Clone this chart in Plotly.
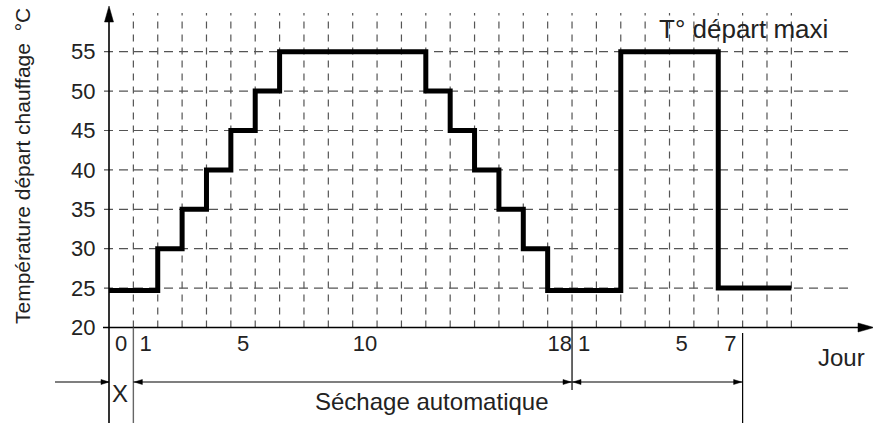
import plotly.graph_objects as go

W, H = 873, 423

# ---------------- data ----------------
step_days = [0, 2, 3, 4, 5, 6, 7, 13, 14, 15, 16, 17, 18, 21, 25, 28]
step_temps = [24.7, 30, 35, 40, 45, 50, 55, 50, 45, 40, 35, 30, 24.7, 55, 25, 25]
y_ticks = [20, 25, 30, 35, 40, 45, 50, 55]
x_tick_pos = [0.5, 1.5, 5.5, 10.5, 18.5, 19.5, 23.5, 25.5]
x_tick_labels = ["0", "1", "5", "10", "18", "1", "5", "7"]
grid_days = list(range(1, 29))
phase_bounds = [0, 1, 19, 26]   # X | Séchage automatique | T° départ maxi

# ---------------- layout helpers (pixel <-> data) ----------------
X0_PX, UX = 109.0, 24.37      # x pixel of day 0, pixels per day
Y20_PX, UY = 327.5, 7.88      # y pixel of 20 °C, pixels per °C
Y_BASE = 20


def px2x(px):
    return (px - X0_PX) / UX


def px2y(py):
    return Y_BASE + (Y20_PX - py) / UY


def x2px(u):
    return X0_PX + u * UX


def y2px(v):
    return Y20_PX - (v - Y_BASE) * UY


x_range = [px2x(0), px2x(W)]
y_range = [px2y(H), px2y(0)]

TXT = "#222222"
GRID = "#555555"
FONT = "Liberation Sans, Arial, sans-serif"

shapes = []

# horizontal dashed grid
for v in y_ticks[1:]:
    shapes.append(dict(type="line", xref="x", yref="y", x0=px2x(104), x1=px2x(848),
                       y0=v, y1=v, layer="below",
                       line=dict(color=GRID, width=1.2, dash="9px,6px")))
# vertical dashed grid
for d in grid_days:
    shapes.append(dict(type="line", xref="x", yref="y", x0=d, x1=d,
                       y0=Y_BASE, y1=px2y(13), layer="below",
                       line=dict(color=GRID, width=1.2, dash="7px,6px")))

# axes lines
shapes.append(dict(type="line", x0=px2x(103), x1=px2x(862), y0=Y_BASE, y1=Y_BASE,
                   line=dict(color="black", width=1.6)))
shapes.append(dict(type="line", x0=0, x1=0, y0=y_range[0], y1=px2y(18),
                   line=dict(color="black", width=1.6)))


def arrowhead(tip_px, tip_py, direction, length, width):
    """Filled triangular arrowhead given in pixel geometry, returned as data path."""
    tx, ty = tip_px, tip_py
    if direction == "right":
        pts = [(tx, ty), (tx - length, ty - width / 2), (tx - length, ty + width / 2)]
    elif direction == "left":
        pts = [(tx, ty), (tx + length, ty - width / 2), (tx + length, ty + width / 2)]
    else:  # up
        pts = [(tx, ty), (tx - width / 2, ty + length), (tx + width / 2, ty + length)]
    p = "M{},{} L{},{} L{},{} Z".format(*[c for pt in pts for c in (px2x(pt[0]), px2y(pt[1]))])
    return dict(type="path", xref="x", yref="y", path=p, fillcolor="black",
                line=dict(color="black", width=0.5))


shapes.append(arrowhead(x2px(0), 6, "up", 16, 9))
shapes.append(arrowhead(W + 1, y2px(Y_BASE), "right", 16, 9))

# phase separators
SEP = "#666666"
shapes.append(dict(type="line", x0=phase_bounds[1], x1=phase_bounds[1], y0=Y_BASE, y1=y_range[0],
                   line=dict(color=SEP, width=1.4)))
shapes.append(dict(type="line", x0=phase_bounds[2], x1=phase_bounds[2], y0=Y_BASE, y1=px2y(390),
                   line=dict(color="black", width=1.2)))
shapes.append(dict(type="line", x0=phase_bounds[3], x1=phase_bounds[3], y0=px2y(333), y1=y_range[0],
                   line=dict(color="black", width=1.2)))

# span arrows below the axis
ARW_Y = 382
shapes.append(dict(type="line", x0=px2x(55), x1=phase_bounds[0], y0=px2y(ARW_Y), y1=px2y(ARW_Y),
                   line=dict(color="black", width=1.1)))
shapes.append(arrowhead(x2px(phase_bounds[0]), ARW_Y, "right", 8, 5))
for a, b in [(phase_bounds[1], phase_bounds[2]), (phase_bounds[2], phase_bounds[3])]:
    shapes.append(dict(type="line", x0=a, x1=b, y0=px2y(ARW_Y), y1=px2y(ARW_Y),
                       line=dict(color="black", width=1.1)))
    shapes.append(arrowhead(x2px(a) + 1, ARW_Y, "left", 8, 5))
    shapes.append(arrowhead(x2px(b) - 1, ARW_Y, "right", 8, 5))

fig = go.Figure()
fig.add_trace(go.Scatter(x=step_days, y=step_temps, mode="lines", line_shape="hv",
                         line=dict(color="black", width=5), hoverinfo="skip",
                         showlegend=False))

annotations = [
    dict(text="T° départ maxi", x=px2x(743), y=px2y(29), font=dict(size=26)),
    dict(text="Jour", x=px2x(841), y=px2y(357), font=dict(size=24)),
    dict(text="X", x=px2x(120), y=px2y(393), font=dict(size=24)),
    dict(text="Séchage automatique", x=px2x(432), y=px2y(401), font=dict(size=24)),
    dict(text="Température départ chauffage\u00a0\u00a0°C", x=px2x(22), y=px2y(166),
         textangle=-90, font=dict(size=21)),
]
for a in annotations:
    a.update(xref="x", yref="y", showarrow=False, xanchor="center", yanchor="middle")
    a["font"].update(color=TXT, family=FONT)

fig.update_layout(
    width=W, height=H, autosize=False,
    margin=dict(l=0, r=0, t=0, b=0, pad=0),
    paper_bgcolor="white", plot_bgcolor="white",
    font=dict(family=FONT, color=TXT),
    shapes=shapes, annotations=annotations,
    xaxis=dict(range=x_range, showgrid=False, zeroline=False, showline=False,
               tickmode="array", tickvals=x_tick_pos, ticktext=x_tick_labels,
               ticks="",
               tickfont=dict(size=22, color=TXT, family=FONT),
               anchor="free", position=(H - Y20_PX) / H, fixedrange=True),
    yaxis=dict(range=y_range, showgrid=False, zeroline=False, showline=False,
               tickmode="array", tickvals=y_ticks,
               ticks="outside", ticklen=9, tickcolor="rgba(0,0,0,0)",
               tickfont=dict(size=22, color=TXT, family=FONT),
               anchor="free", position=X0_PX / W, fixedrange=True),
)

fig.write_html("out.html", config={"displayModeBar": False},
               post_script="document.body.style.margin='0';document.body.style.padding='0';")
